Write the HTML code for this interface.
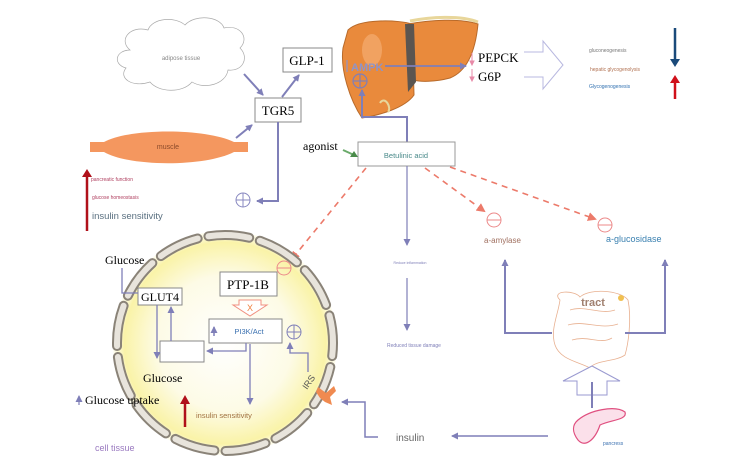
<!DOCTYPE html>
<html><head><meta charset="utf-8"><style>
html,body{margin:0;padding:0;background:#fff;}
svg{display:block;font-family:"Liberation Sans",sans-serif;}
.s{font-family:"Liberation Serif",serif;}
</style></head><body>
<svg width="736" height="462" viewBox="0 0 736 462" xmlns="http://www.w3.org/2000/svg">
<defs>
<radialGradient id="yg" cx="0.5" cy="0.5" r="0.5">
<stop offset="0" stop-color="#ffffff"/><stop offset="0.6" stop-color="#fdfbe6"/><stop offset="0.9" stop-color="#faf3a8"/><stop offset="1" stop-color="#fbf6c8" stop-opacity="0.3"/>
</radialGradient>
<marker id="a" markerUnits="userSpaceOnUse" markerWidth="7" markerHeight="7" refX="6" refY="3.5" orient="auto"><path d="M0,0 L7,3.5 L0,7 z" fill="#7f7fb8"/></marker>
<marker id="r" markerUnits="userSpaceOnUse" markerWidth="9" markerHeight="9" refX="7" refY="4.5" orient="auto"><path d="M0,0 L9,4.5 L0,9 z" fill="#ec7a6a"/></marker>
</defs>

<!-- cloud -->
<g fill="#fff" stroke="#aaa" stroke-width="0.7">
<path d="M130,50 C118,40 130,25 148,30 C152,18 175,16 185,25 C195,14 220,16 224,28 C240,24 250,38 240,48 C250,58 242,72 228,70 C226,84 205,90 192,82 C182,94 158,92 150,82 C132,88 118,78 126,68 C112,64 116,50 130,50 Z"/>
</g>
<text x="181" y="60" font-size="6" fill="#888" text-anchor="middle">adipose tissue</text>

<!-- muscle -->
<path d="M90,142 L104,142 C130,128 205,128 234,142 L248,142 L248,152 L234,152 C205,167 130,167 104,152 L90,152 Z" fill="#f4975f"/>
<text x="168" y="149" font-size="7" fill="#8a4a2a" text-anchor="middle">muscle</text>

<!-- GLP-1, TGR5 -->
<rect x="283" y="48" width="49" height="24" fill="#fff" stroke="#888"/>
<text x="307" y="65" class="s" font-size="13" text-anchor="middle">GLP-1</text>
<rect x="255" y="98" width="46" height="24" fill="#fff" stroke="#888"/>
<text x="278" y="115" class="s" font-size="13" text-anchor="middle">TGR5</text>
<g stroke="#7f7fb8" stroke-width="2" fill="none">
<line x1="244" y1="74" x2="263" y2="95" marker-end="url(#a)"/>
<line x1="282" y1="97" x2="299" y2="75" marker-end="url(#a)"/>
<line x1="236" y1="138" x2="252" y2="125" marker-end="url(#a)"/>
<polyline points="278,122 278,201 257,201" marker-end="url(#a)"/>
</g>
<g stroke="#8888c0" fill="none" stroke-width="1"><circle cx="243" cy="200" r="7"/><line x1="236" y1="200" x2="250" y2="200"/><line x1="243" y1="193" x2="243" y2="207"/></g>

<!-- red arrow left -->
<line x1="87" y1="231" x2="87" y2="175" stroke="#b0101a" stroke-width="2.5"/>
<path d="M82,177 L87,169 L92,177 z" fill="#b0101a"/>
<text x="91" y="181" font-size="5" fill="#b04060">pancreatic function</text>
<text x="92" y="199" font-size="5" fill="#b04060">glucose homeostasis</text>
<text x="92" y="219" font-size="9.5" fill="#5a7080">insulin sensitivity</text>

<!-- liver -->
<path d="M348,30 C360,18 400,20 412,24 L414,95 C405,108 380,115 362,118 C350,100 340,70 343,48 Z" fill="#e98a3c" stroke="#b86a2a"/>
<path d="M408,24 C430,20 460,18 478,24 C476,45 470,70 450,78 C435,82 420,82 414,80 Z" fill="#e98a3c" stroke="#b86a2a"/>
<path d="M405,24 L414,24 L416,82 L408,92 Z" fill="#5b5550"/>
<path d="M410,21 C430,17 460,15 478,22" stroke="#e8d69a" stroke-width="3" fill="none"/>
<ellipse cx="372" cy="50" rx="10" ry="16" fill="#f6b27a" opacity="0.6"/>
<path d="M380,103 C385,95 392,108 388,112" stroke="#e8d69a" stroke-width="2" fill="none"/>
<text x="351" y="71" font-size="11" font-weight="bold" fill="#8f94c8">AMPK</text>
<line x1="347" y1="72" x2="347" y2="60" stroke="#8f94c8" stroke-width="1.2"/>
<g stroke="#7f7fb8" fill="none" stroke-width="1.2"><circle cx="360" cy="81" r="7"/><line x1="353" y1="81" x2="367" y2="81"/><line x1="360" y1="74" x2="360" y2="88"/></g>
<line x1="385" y1="66" x2="466" y2="66" stroke="#7f7fb8" stroke-width="1.8" marker-end="url(#a)"/>
<g stroke="#e88aa8" stroke-width="1" fill="#e88aa8"><line x1="472" y1="53" x2="472" y2="62"/><path d="M470,61 L472,65 L474,61z"/><line x1="472" y1="69" x2="472" y2="78"/><path d="M470,77 L472,81 L474,77z"/></g>
<text x="478" y="62" class="s" font-size="13">PEPCK</text>
<text x="478" y="81" class="s" font-size="13">G6P</text>
<g stroke="#7f7fb8" stroke-width="2" fill="none">
<polyline points="362,96 362,117 407,117 407,142"/>
<line x1="362" y1="96" x2="362" y2="90" marker-end="url(#a)"/>
</g>

<!-- hollow arrow right -->
<path d="M524,52 L543,52 L543,41 L563,65 L543,89 L543,77 L524,77" fill="#fff" stroke="#b8b8e0" stroke-width="1"/>
<text x="589" y="52" font-size="5" fill="#777">gluconeogenesis</text>
<text x="590" y="71" font-size="5" fill="#b07050">hepatic glycogenolysis</text>
<text x="589" y="88" font-size="5" fill="#3070b0">Glycogenogenesis</text>
<line x1="675" y1="28" x2="675" y2="60" stroke="#1a4a7a" stroke-width="2.5"/><path d="M670,59 L675,67 L680,59z" fill="#1a4a7a"/>
<line x1="675" y1="99" x2="675" y2="82" stroke="#d0101a" stroke-width="2.5"/><path d="M670,83 L675,75 L680,83z" fill="#d0101a"/>

<!-- betulinic -->
<rect x="358" y="142" width="97" height="24" fill="#fff" stroke="#999"/>
<text x="406" y="158" font-size="7.5" fill="#4a8a8a" text-anchor="middle">Betulinic acid</text>
<text x="303" y="150" class="s" font-size="12">agonist</text>
<line x1="343" y1="150" x2="354" y2="155" stroke="#6aaa6a" stroke-width="2"/><path d="M350,157 L358,157 L354,151z" fill="#4a8a4a"/>
<g stroke="#ec7a6a" stroke-width="1.6" stroke-dasharray="6,5" fill="none">
<line x1="366" y1="168" x2="292" y2="259" marker-end="url(#r)"/>
<line x1="425" y1="168" x2="484" y2="211" marker-end="url(#r)"/>
<line x1="450" y1="167" x2="595" y2="219" marker-end="url(#r)"/>
</g>
<g stroke="#ec8a8a" fill="none" stroke-width="1"><circle cx="494" cy="220" r="7"/><line x1="487" y1="220" x2="501" y2="220"/><circle cx="605" cy="225" r="7"/><line x1="598" y1="225" x2="612" y2="225"/></g>
<text x="484" y="243" font-size="8" fill="#a07060">a-amylase</text>
<text x="606" y="242" font-size="9" fill="#3a80b0">a-glucosidase</text>

<g stroke="#7f7fb8" stroke-width="1.2" fill="none">
<line x1="407" y1="166" x2="407" y2="245" marker-end="url(#a)"/>
<line x1="407" y1="278" x2="407" y2="330" marker-end="url(#a)"/>
</g>
<text x="410" y="264" font-size="3.5" fill="#7f7fb8" text-anchor="middle">Reduce inflammation</text>
<text x="414" y="347" font-size="5" fill="#7f7fb8" text-anchor="middle">Reduced tissue damage</text>

<!-- gut -->
<g stroke="#e8b090" fill="none" stroke-width="0.8">
<path d="M560,300 C550,290 575,290 580,297 C590,288 620,290 628,300 C632,320 628,345 625,355 C615,362 595,360 590,368 C580,362 560,360 555,345 C550,330 558,315 560,300 Z"/>
<path d="M570,310 C585,305 600,315 615,310 M568,325 C585,320 600,330 618,324 M572,340 C588,335 600,345 612,338"/>
</g>
<circle cx="621" cy="298" r="3" fill="#f0c050"/>
<text x="593" y="306" font-size="11" font-weight="bold" fill="#a08070" text-anchor="middle">tract</text>
<g stroke="#7f7fb8" stroke-width="2" fill="none">
<polyline points="552,333 505,333 505,260" marker-end="url(#a)"/>
<polyline points="625,333 665,333 665,260" marker-end="url(#a)"/>
</g>
<path d="M563,381 L592,366 L620,381 L607,381 L607,395 L577,395 L577,381 Z" fill="#fff" stroke="#9a9ad0"/>
<line x1="592" y1="382" x2="592" y2="408" stroke="#7f7fb8" stroke-width="2"/>
<path d="M578,420 C590,410 615,405 625,412 C628,420 610,420 600,425 C595,440 585,448 578,440 C572,432 572,425 578,420 Z" fill="#fbe0ea" stroke="#e05080" stroke-width="1.2"/>
<text x="603" y="445" font-size="5" fill="#3a70b0">pancress</text>
<line x1="548" y1="436" x2="452" y2="436" stroke="#7f7fb8" stroke-width="1.5" marker-end="url(#a)"/>
<text x="396" y="441" font-size="10" fill="#666">insulin</text>
<polyline points="378,437 365,437 365,402 342,402" stroke="#7f7fb8" stroke-width="1.5" fill="none" marker-end="url(#a)"/>

<!-- cell -->
<circle cx="225" cy="343" r="112" fill="url(#yg)"/>
<circle cx="225" cy="343" r="108" fill="none" stroke="#8a8378" stroke-width="10" stroke-dasharray="41,11" stroke-linecap="round" transform="rotate(-70 225 343)"/>
<circle cx="225" cy="343" r="108" fill="none" stroke="#e8e4dc" stroke-width="6" stroke-dasharray="41,11" stroke-linecap="round" transform="rotate(-70 225 343)"/>
<g stroke="#ec8a8a" fill="none" stroke-width="1"><circle cx="284" cy="268" r="7"/><line x1="277" y1="268" x2="291" y2="268"/></g>

<text x="105" y="264" class="s" font-size="12">Glucose</text>
<rect x="138" y="288" width="44" height="17" fill="#fff" stroke="#888"/>
<text x="160" y="301" class="s" font-size="12" text-anchor="middle">GLUT4</text>
<rect x="220" y="272" width="57" height="24" fill="#fff" stroke="#888"/>
<text x="248" y="289" class="s" font-size="13" text-anchor="middle">PTP-1B</text>
<path d="M239,300 L261,300 L261,305 L267,305 L250,316 L233,305 L239,305 Z" fill="#fff" stroke="#f09080"/>
<text x="250" y="311" font-size="9" fill="#f08040" text-anchor="middle">X</text>
<rect x="209" y="319" width="73" height="24" fill="#fff" stroke="#888"/>
<text x="249" y="334" font-size="7.5" fill="#3a70b0" text-anchor="middle">PI3K/Act</text>
<line x1="214" y1="336" x2="214" y2="327" stroke="#7f7fb8" stroke-width="1.5" marker-end="url(#a)"/>
<g stroke="#7f7fb8" fill="none" stroke-width="1"><circle cx="294" cy="332" r="7"/><line x1="287" y1="332" x2="301" y2="332"/><line x1="294" y1="325" x2="294" y2="339"/></g>
<rect x="160" y="341" width="44" height="21" fill="#fff" stroke="#888"/>
<g stroke="#7f7fb8" stroke-width="1.3" fill="none">
<polyline points="122,268 122,293 138,293"/>
<line x1="157" y1="305" x2="157" y2="358" marker-end="url(#a)"/>
<line x1="171" y1="341" x2="171" y2="307" marker-end="url(#a)"/>
<polyline points="246,343 246,351 207,351" marker-end="url(#a)"/>
<line x1="250" y1="344" x2="250" y2="404" marker-end="url(#a)"/>
<polyline points="308,372 308,353 290,353 290,343" marker-end="url(#a)"/>
</g>
<text x="143" y="382" class="s" font-size="12">Glucose</text>
<line x1="79" y1="405" x2="79" y2="396" stroke="#7f7fb8" stroke-width="1.2" marker-end="url(#a)"/>
<text x="85" y="404" class="s" font-size="12">Glucose uptake</text>
<line x1="185" y1="427" x2="185" y2="402" stroke="#b0101a" stroke-width="2.5"/><path d="M180,404 L185,395 L190,404z" fill="#b0101a"/>
<text x="196" y="418" font-size="7.5" fill="#a07040">insulin sensitivity</text>
<text x="95" y="451" font-size="9" fill="#9a7ac0">cell tissue</text>
<text x="0" y="0" font-size="9" fill="#555" transform="translate(307,390) rotate(-55)">IRS</text>
<path d="M318,387 L326,393 L334,386 L336,391 L330,397 L332,405 L325,402 L320,398 L316,392 Z" fill="#f08a50"/>
</svg>
</body></html>
